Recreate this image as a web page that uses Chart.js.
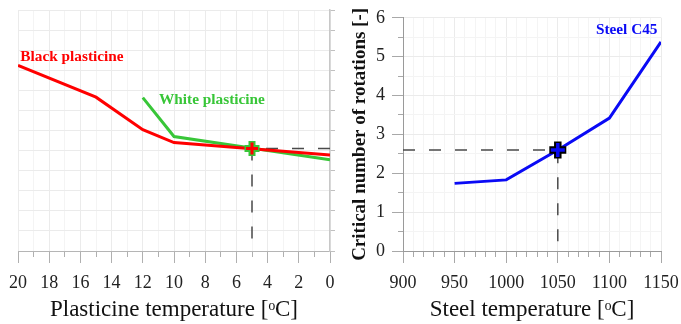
<!DOCTYPE html>
<html><head><meta charset="utf-8">
<script src="https://cdn.jsdelivr.net/npm/chart.js@4"></script>
<style>
html,body{margin:0;padding:0;background:#fff;}
#wrap{position:relative;width:681px;height:324px;overflow:hidden;background:#fff;}
canvas{position:absolute;top:0;}
#c1{left:0;} #c2{left:338px;}
</style></head><body>
<div id="wrap"><canvas id="c1" width="340" height="324"></canvas><canvas id="c2" width="343" height="324"></canvas></div>
<script>
// ---- data ----
const seriesNames = ['Black plasticine', 'White plasticine', 'Steel C45'];
const blackTemps = [20, 15, 12, 10, 0];
const blackValues = [4.62, 3.83, 3.02, 2.70, 2.39];
const whiteTemps = [12, 10, 0];
const whiteValues = [3.82, 2.85, 2.27];
const steelTemps = [950, 1000, 1050, 1100, 1150];
const steelValues = [1.74, 1.83, 2.60, 3.42, 5.38];
const plastPoint = {x: 5, y: 2.55};
const steelPoint = {x: 1050, y: 2.6};
const plastTicks = [20, 18, 16, 14, 12, 10, 8, 6, 4, 2, 0];
const steelTicks = [900, 950, 1000, 1050, 1100, 1150];
const rotTicks = [0, 1, 2, 3, 4, 5, 6];
const xTitleLeft = 'Plasticine temperature [\u1D52C]';
const xTitleRight = 'Steel temperature [\u1D52C]';
const yTitleRight = 'Critical number of rotations [-]';

// ---- helpers ----
const SERIF = '"Liberation Serif", "Times New Roman", serif';
const zip = (xs, ys) => xs.map((x, i) => ({x, y: ys[i]}));
const RED = '#ff0000', GREEN = '#38c638', BLUE = '#0a0af5';
const GRID_MAJ = '#ebebeb', GRID_MIN = '#f4f4f4', AXIS = '#9a9a9a';
const plain = v => String(v);

const labelPlugin = {
  id: 'seriesLabels',
  afterDatasetsDraw(chart, args, opts) {
    const ctx = chart.ctx;
    (opts.items || []).forEach(it => {
      const x = chart.scales.x.getPixelForValue(it.x);
      const y = chart.scales.y.getPixelForValue(it.y);
      ctx.save();
      ctx.font = 'bold 15.3px ' + SERIF;
      ctx.fillStyle = it.color;
      ctx.textAlign = it.align;
      ctx.textBaseline = 'middle';
      ctx.fillText(it.text, x, y);
      ctx.restore();
    });
  }
};

function markerSets(pt, inner, outer, rIn, rOut, wIn, wOut) {
  return [
    {data: [pt], showLine: false, pointStyle: 'cross', pointRadius: rIn, pointBorderWidth: wIn, pointBorderColor: inner, borderColor: inner},
    {data: [pt], showLine: false, pointStyle: 'cross', pointRadius: rOut, pointBorderWidth: wOut, pointBorderColor: outer, borderColor: outer}
  ];
}
const lineSet = (data, color) => ({data, borderColor: color, borderWidth: 3, pointRadius: 0, tension: 0, fill: false});
const dashSet = data => ({data, borderColor: '#4a4a4a', borderWidth: 1.5, borderDash: [12, 14], pointRadius: 0, tension: 0, fill: false});
const fitX = s => { s.height = 73; s.paddingLeft = 0; s.paddingRight = 0; };

const common = {
  responsive: false, animation: false, devicePixelRatio: 1,
  plugins: {legend: {display: false}, tooltip: {enabled: false}},
  events: []
};

// ---- left chart ----
new Chart(document.getElementById('c1'), {
  type: 'line',
  data: {datasets: [
    ...markerSets(plastPoint, RED, GREEN, 6, 7.5, 3, 7),
    lineSet(zip(blackTemps, blackValues), RED),
    lineSet(zip(whiteTemps, whiteValues), GREEN),
    dashSet([{x: 0, y: plastPoint.y}, plastPoint, {x: plastPoint.x, y: 0}])
  ]},
  plugins: [labelPlugin],
  options: {
    ...common,
    layout: {autoPadding: false, padding: {left: 18, right: 5, top: 10, bottom: 0}},
    plugins: {...common.plugins, seriesLabels: {items: [
      {text: seriesNames[0], x: 19.85, y: 4.83, color: RED, align: 'left'},
      {text: seriesNames[1], x: 10.96, y: 3.76, color: GREEN, align: 'left'}
    ]}},
    scales: {
      xm: {type: 'linear', position: 'bottom', weight: 0, min: 0, max: 20, reverse: true,
        ticks: {display: false, stepSize: 1},
        grid: {color: GRID_MIN, tickColor: '#b0b0b0', tickLength: 6, drawTicks: true},
        border: {display: false},
        afterFit: s => { s.height = 0; }},
      x: {type: 'linear', position: 'bottom', weight: 1, min: 0, max: 20, reverse: true,
        afterBuildTicks: s => { s.ticks = plastTicks.map(v => ({value: v})); },
        ticks: {font: {family: SERIF, size: 18}, color: '#222', padding: 9, maxRotation: 0, autoSkip: false, callback: plain},
        grid: {color: GRID_MAJ, tickColor: '#b0b0b0', tickLength: 12},
        border: {color: '#b5b5b5', width: 1},
        title: {display: true, text: xTitleLeft, font: {family: SERIF, size: 23, lineHeight: 1.2}, color: '#111', padding: 0},
        afterFit: fitX},
      y: {type: 'linear', position: 'right', min: 0, max: 6,
        ticks: {display: false, stepSize: 0.5},
        grid: {color: GRID_MAJ, tickColor: '#c0c0c0', tickLength: 5},
        border: {color: '#c8c8c8', width: 1.5},
        afterFit: s => { s.width = 5; }}
    }
  }
});

// ---- right chart ----
new Chart(document.getElementById('c2'), {
  type: 'line',
  data: {datasets: [
    ...markerSets(steelPoint, BLUE, '#000000', 7, 8.5, 3.5, 7.5),
    lineSet(zip(steelTemps, steelValues), BLUE),
    dashSet([{x: 900, y: steelPoint.y}, steelPoint, {x: steelPoint.x, y: 0}])
  ]},
  plugins: [labelPlugin],
  options: {
    ...common,
    layout: {autoPadding: false, padding: {left: 0, right: 20, top: 12, bottom: 0}},
    plugins: {...common.plugins, seriesLabels: {items: [
      {text: seriesNames[2], x: 1146.6, y: 5.68, color: BLUE, align: 'right'}
    ]}},
    scales: {
      xm: {type: 'linear', position: 'bottom', weight: 0, min: 900, max: 1150,
        ticks: {display: false, stepSize: 10},
        grid: {color: GRID_MIN, tickColor: '#a8a8a8', tickLength: 6},
        border: {display: false},
        afterFit: s => { s.height = 0; }},
      x: {type: 'linear', position: 'bottom', weight: 1, min: 900, max: 1150,
        afterBuildTicks: s => { s.ticks = steelTicks.map(v => ({value: v})); },
        ticks: {font: {family: SERIF, size: 18}, color: '#222', padding: 9, maxRotation: 0, autoSkip: false, callback: plain},
        grid: {color: GRID_MAJ, tickColor: '#a8a8a8', tickLength: 12},
        border: {color: AXIS, width: 1},
        title: {display: true, text: xTitleRight, font: {family: SERIF, size: 23, lineHeight: 1.2}, color: '#111', padding: 0},
        afterFit: fitX},
      ym: {type: 'linear', position: 'left', weight: 0, min: 0, max: 6,
        ticks: {display: false, stepSize: 0.5},
        grid: {color: GRID_MIN, tickColor: '#a8a8a8', tickLength: 5},
        border: {display: false},
        afterFit: s => { s.width = 0; }},
      y: {type: 'linear', position: 'left', weight: 1, min: 0, max: 6,
        afterBuildTicks: s => { s.ticks = rotTicks.map(v => ({value: v})); },
        ticks: {font: {family: SERIF, size: 18}, color: '#222', padding: 7, callback: plain},
        grid: {color: GRID_MAJ, tickColor: '#a8a8a8', tickLength: 11},
        border: {color: AXIS, width: 1},
        title: {display: true, text: yTitleRight, font: {family: SERIF, size: 19, weight: 'bold', lineHeight: 1.2}, color: '#111', padding: {top: 10.6, bottom: 0}},
        afterFit: s => { s.width = 65; }}
    }
  }
});
</script>
</body></html>
